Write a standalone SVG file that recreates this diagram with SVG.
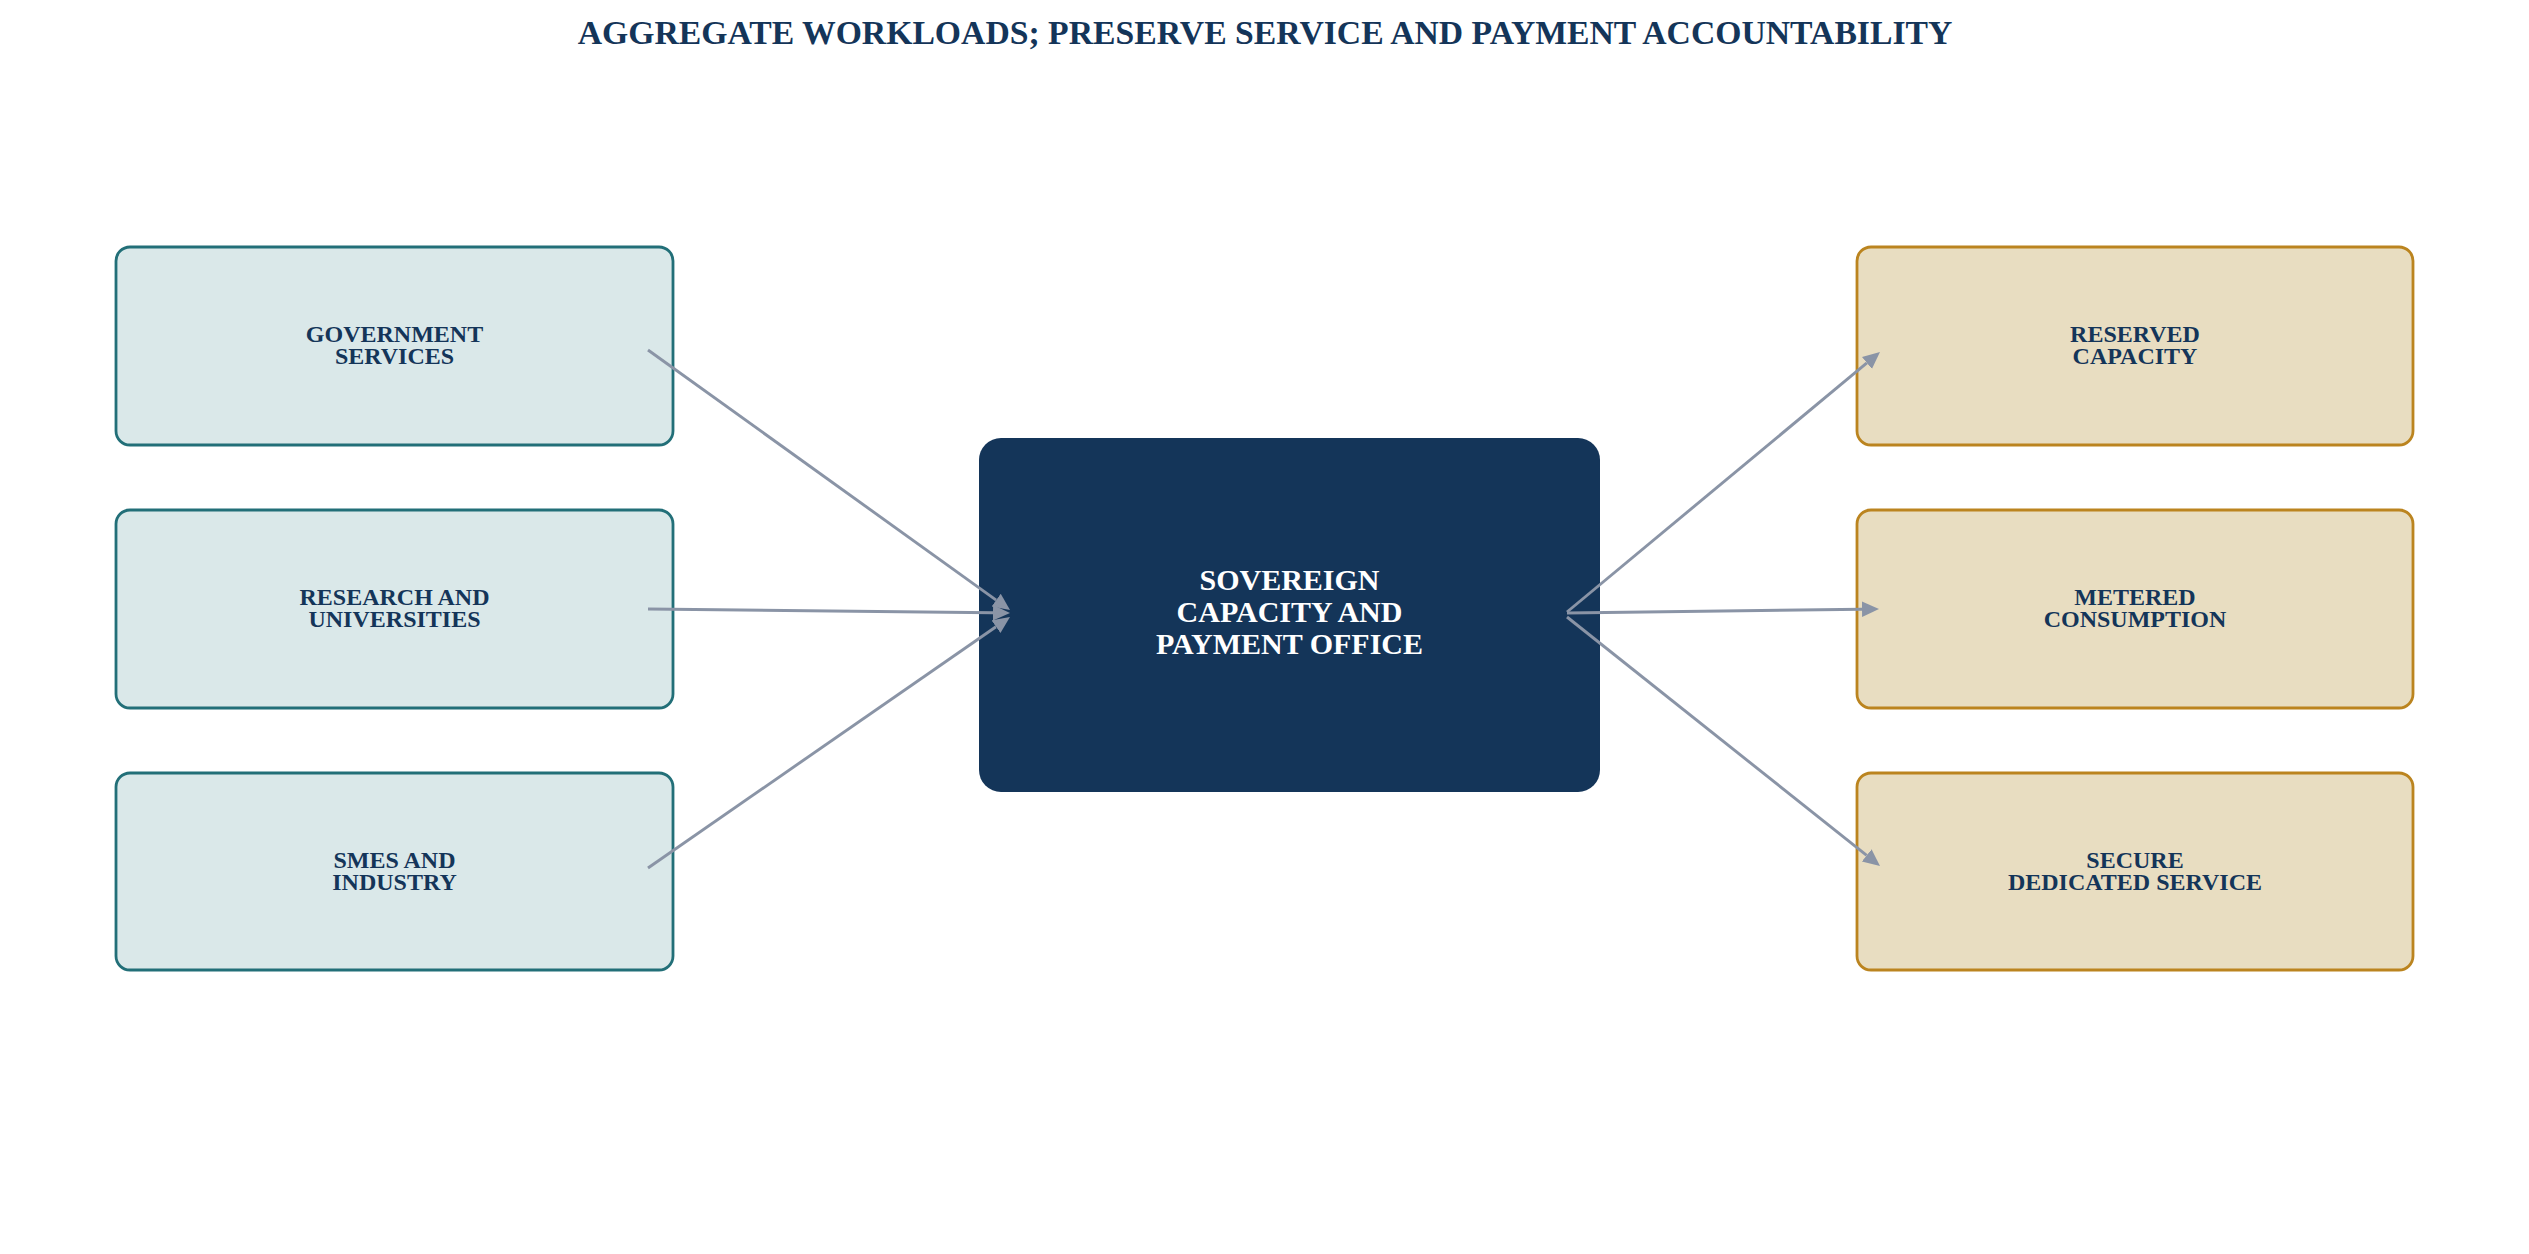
<svg xmlns="http://www.w3.org/2000/svg" width="2529" height="1254" viewBox="0 0 2529 1254">
<style>
.t{font-family:"Liberation Serif","Times New Roman",serif;font-weight:bold;text-anchor:middle;fill:#143559}
.in rect{fill:#dae8e9;stroke:#226f78;stroke-width:2.8}
.out rect{fill:#e8ddc1;stroke:#bb841f;stroke-width:2.8}
.lbl{font-size:24px}
.hub rect{fill:#143559}
.hub text{fill:#ffffff;font-size:30px}
.conn line{stroke:#8a94a6;stroke-width:2.9;fill:none}
</style>
<defs>
<marker id="ah" markerUnits="userSpaceOnUse" markerWidth="18" markerHeight="17" refX="0" refY="7.8" orient="auto">
<path d="M0,0 L17,7.8 L0,15.6 z" fill="#8a94a6"/>
</marker>
</defs>
<rect width="2529" height="1254" fill="#ffffff"/>
<text class="t" x="1265" y="44" font-size="33.7">AGGREGATE WORKLOADS; PRESERVE SERVICE AND PAYMENT ACCOUNTABILITY</text>

<g id="gov" class="in">
<rect x="116" y="247" width="557" height="198" rx="14"/>
<text class="t lbl" x="394.5" y="342">GOVERNMENT</text>
<text class="t lbl" x="394.5" y="364">SERVICES</text>
</g>
<g id="research" class="in">
<rect x="116" y="510" width="557" height="198" rx="14"/>
<text class="t lbl" x="394.5" y="605">RESEARCH AND</text>
<text class="t lbl" x="394.5" y="627">UNIVERSITIES</text>
</g>
<g id="smes" class="in">
<rect x="116" y="773" width="557" height="197" rx="14"/>
<text class="t lbl" x="394.5" y="868">SMES AND</text>
<text class="t lbl" x="394.5" y="890">INDUSTRY</text>
</g>

<g id="hub" class="hub">
<rect x="979" y="438" width="621" height="354" rx="22"/>
<text class="t" x="1289.5" y="590">SOVEREIGN</text>
<text class="t" x="1289.5" y="622">CAPACITY AND</text>
<text class="t" x="1289.5" y="654">PAYMENT OFFICE</text>
</g>

<g id="reserved" class="out">
<rect x="1857" y="247" width="556" height="198" rx="14"/>
<text class="t lbl" x="2135" y="342">RESERVED</text>
<text class="t lbl" x="2135" y="364">CAPACITY</text>
</g>
<g id="metered" class="out">
<rect x="1857" y="510" width="556" height="198" rx="14"/>
<text class="t lbl" x="2135" y="605">METERED</text>
<text class="t lbl" x="2135" y="627">CONSUMPTION</text>
</g>
<g id="secure" class="out">
<rect x="1857" y="773" width="556" height="197" rx="14"/>
<text class="t lbl" x="2135" y="868">SECURE</text>
<text class="t lbl" x="2135" y="890">DEDICATED SERVICE</text>
</g>

<g id="connectors" class="conn">
<line x1="648" y1="350" x2="996.2" y2="600.1" marker-end="url(#ah)"/>
<line x1="648" y1="609" x2="993" y2="612.8" marker-end="url(#ah)"/>
<line x1="648" y1="868" x2="996" y2="626.7" marker-end="url(#ah)"/>
<line x1="1567" y1="612" x2="1866.9" y2="362.9" marker-end="url(#ah)"/>
<line x1="1567" y1="613" x2="1862" y2="609.2" marker-end="url(#ah)"/>
<line x1="1567" y1="617" x2="1866.7" y2="855.4" marker-end="url(#ah)"/>
</g>
</svg>
